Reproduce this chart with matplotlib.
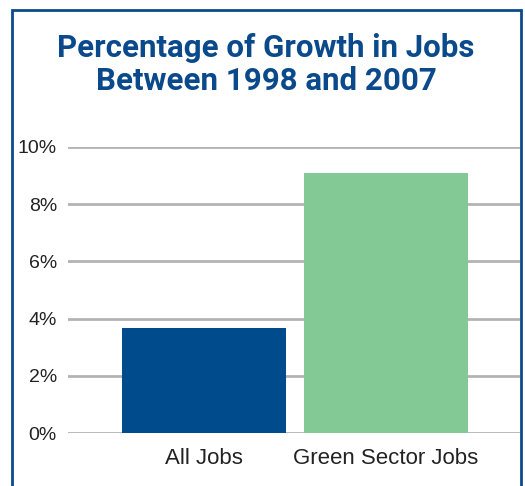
import matplotlib.pyplot as plt
from matplotlib.patches import Rectangle

categories = ['All Jobs', 'Green Sector Jobs']
growth = [3.67, 9.08]
bar_colors = ['#004b8c', '#82c995']
yticks = [0, 2, 4, 6, 8, 10]
title_lines = ['Percentage of Growth in Jobs', 'Between 1998 and 2007']

W, H = 525, 486
fig = plt.figure(figsize=(W / 100, H / 100), dpi=100)
plt.rcParams['font.family'] = ['Liberation Sans', 'DejaVu Sans']

# axes placed in pixel coords of the reference
x0, x1 = 68, 520
y0, y1 = 433, 147
ax = fig.add_axes([x0 / W, 1 - y0 / H, (x1 - x0) / W, (y0 - y1) / H])

pos = range(len(categories))
ax.bar(pos, growth, width=0.9, color=bar_colors, zorder=3)
ax.set_xlim(-0.747, 1.736)
ax.set_ylim(0, 10)
ax.set_yticks(yticks)
ax.set_yticklabels([f'{t}%' for t in yticks])
ax.set_xticks(list(pos))
ax.set_xticklabels(categories)
ax.yaxis.grid(True, color='#b3b3b3', linewidth=2, zorder=0)
ax.tick_params(axis='y', length=0, pad=8, labelsize=14, colors='#222222')
ax.tick_params(axis='x', length=0, pad=11, labelsize=16, colors='#222222')
for s in ax.spines.values():
    s.set_visible(False)

for line, base in zip(title_lines, [57, 90]):
    fig.text(266 / W, 1 - base / H, line, ha='center', va='baseline',
             fontsize=22.5, fontweight='bold', color='#0a4a8c',
             family=['Roboto', 'DejaVu Sans'])

fig.patches.append(Rectangle((12 / W, -0.05), (521 - 12) / W, 1.05 - 10 / H,
                             transform=fig.transFigure, fill=False,
                             edgecolor='#0c4a8a', linewidth=2))

fig.savefig('out.png', dpi=100)
